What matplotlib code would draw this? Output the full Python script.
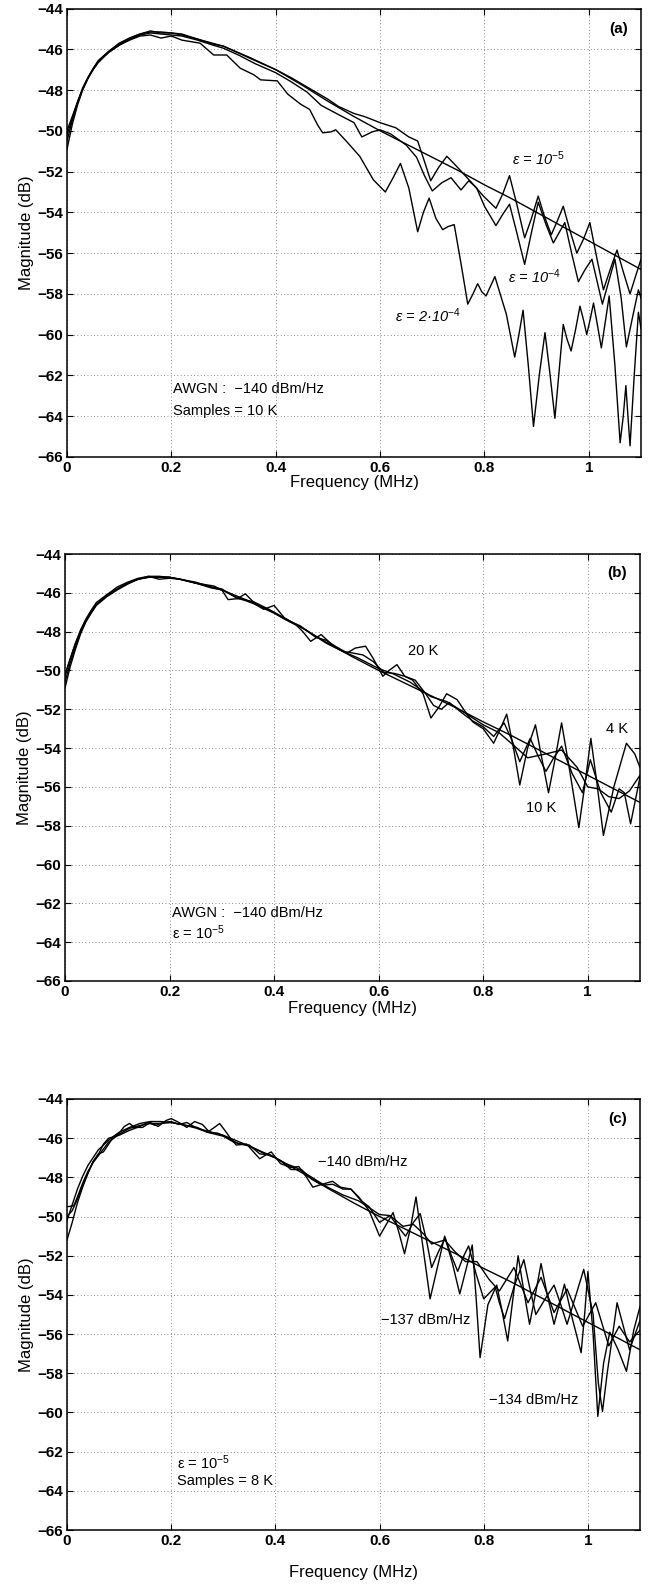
import matplotlib
matplotlib.use("Agg")
import matplotlib.pyplot as plt

plt.rcParams['font.family'] = ['Liberation Sans', 'DejaVu Sans']
plt.rcParams['mathtext.fontset'] = 'custom'
plt.rcParams['mathtext.rm'] = 'Liberation Sans'
plt.rcParams['mathtext.it'] = 'Liberation Sans:italic'
plt.rcParams['mathtext.bf'] = 'Liberation Sans:bold'

# ---------------- data ----------------
X_TICKS = [0, 0.2, 0.4, 0.6, 0.8, 1.0]
X_TICK_LABELS = ['0', '0.2', '0.4', '0.6', '0.8', '1']
Y_TICKS = [-44, -46, -48, -50, -52, -54, -56, -58, -60, -62, -64, -66]

THEORY_F = [0.00, 0.01, 0.02, 0.03, 0.04, 0.05, 0.06, 0.08, 0.10, 0.12, 0.14, 0.16, 0.18, 0.20, 0.22,
            0.25, 0.30, 0.35, 0.40, 0.45, 0.50, 0.55, 0.60, 0.65, 0.70, 0.75, 0.80, 0.85, 0.90, 0.95,
            1.00, 1.05, 1.10]
THEORY_DB = [-50.2, -49.4, -48.6, -47.95, -47.4, -47.0, -46.6, -46.1, -45.7, -45.45, -45.25, -45.15,
             -45.15, -45.2, -45.3, -45.5, -45.85, -46.4, -47.0, -47.75, -48.55, -49.3, -50.0, -50.65,
             -51.3, -51.95, -52.65, -53.3, -54.0, -54.7, -55.4, -56.1, -56.8]

# panel (a): AWGN -140 dBm/Hz, 10 K samples, different epsilon
A_EPS_1E5 = [(0.00, -50.0), (0.01, -49.3), (0.02, -48.6), (0.03, -47.9), (0.04, -47.4), (0.05, -46.95),
             (0.06, -46.55), (0.08, -46.1), (0.10, -45.75), (0.12, -45.45), (0.14, -45.25), (0.16, -45.1),
             (0.18, -45.2), (0.20, -45.2), (0.22, -45.25), (0.25, -45.5), (0.28, -45.75), (0.30, -45.85),
             (0.33, -46.2), (0.36, -46.55), (0.40, -47.0), (0.43, -47.4), (0.46, -47.85), (0.50, -48.45),
             (0.52, -48.8), (0.55, -49.15), (0.57, -49.3), (0.60, -49.6), (0.63, -49.85), (0.655, -50.3),
             (0.672, -50.5), (0.685, -51.5), (0.697, -52.45), (0.712, -51.8), (0.728, -51.25), (0.745, -51.7),
             (0.774, -52.5), (0.798, -53.2), (0.822, -53.8), (0.835, -53.1), (0.848, -52.2), (0.862, -53.6),
             (0.877, -55.25), (0.89, -54.3), (0.903, -53.2), (0.915, -54.2), (0.928, -55.1), (0.94, -54.4),
             (0.951, -53.7), (0.964, -54.9), (0.977, -56.0), (0.99, -55.3), (1.002, -54.5), (1.015, -56.2),
             (1.028, -57.8), (1.041, -56.8), (1.054, -55.85), (1.067, -57.0), (1.079, -58.0), (1.09, -57.1),
             (1.10, -56.3)]
A_EPS_1E4 = [(0.00, -50.5), (0.01, -49.5), (0.02, -48.65), (0.03, -47.95), (0.04, -47.4), (0.05, -46.95),
             (0.06, -46.6), (0.08, -46.15), (0.10, -45.8), (0.12, -45.5), (0.14, -45.3), (0.16, -45.2),
             (0.18, -45.25), (0.20, -45.3), (0.22, -45.35), (0.25, -45.55), (0.28, -45.8), (0.30, -45.95),
             (0.33, -46.3), (0.36, -46.7), (0.40, -47.15), (0.43, -47.6), (0.46, -48.1), (0.487, -48.75),
             (0.52, -49.2), (0.55, -49.6), (0.565, -50.3), (0.585, -50.05), (0.60, -49.95), (0.62, -50.15),
             (0.65, -50.7), (0.67, -51.3), (0.685, -52.2), (0.70, -52.95), (0.718, -52.55), (0.736, -52.3),
             (0.755, -52.9), (0.77, -52.45), (0.785, -52.8), (0.80, -53.7), (0.822, -54.65), (0.835, -54.1),
             (0.848, -53.6), (0.862, -55.0), (0.877, -56.55), (0.89, -55.0), (0.903, -53.5), (0.918, -54.6),
             (0.932, -55.5), (0.943, -55.0), (0.954, -54.5), (0.967, -56.0), (0.98, -57.4), (0.993, -56.8),
             (1.006, -56.3), (1.016, -57.4), (1.026, -58.5), (1.038, -57.4), (1.05, -56.3), (1.062, -58.2),
             (1.072, -60.6), (1.085, -59.0), (1.095, -57.8), (1.10, -58.2)]
A_EPS_2E4 = [(0.00, -50.9), (0.01, -49.7), (0.02, -48.75), (0.03, -48.0), (0.04, -47.45), (0.05, -47.0),
             (0.06, -46.65), (0.08, -46.15), (0.10, -45.8), (0.12, -45.55), (0.14, -45.35), (0.16, -45.3),
             (0.18, -45.45), (0.20, -45.35), (0.22, -45.55), (0.255, -45.7), (0.281, -46.28), (0.306, -46.28),
             (0.332, -46.93), (0.358, -47.25), (0.371, -47.5), (0.403, -47.55), (0.423, -48.2), (0.448, -48.7),
             (0.465, -48.95), (0.48, -49.7), (0.49, -50.1), (0.506, -50.05), (0.515, -49.95), (0.535, -50.5),
             (0.561, -51.25), (0.587, -52.4), (0.61, -53.0), (0.625, -52.3), (0.639, -51.6), (0.655, -52.8),
             (0.672, -54.95), (0.683, -54.0), (0.694, -53.3), (0.707, -54.3), (0.72, -54.85), (0.73, -54.7),
             (0.742, -54.6), (0.755, -56.5), (0.768, -58.5), (0.778, -58.0), (0.787, -57.5), (0.795, -57.9),
             (0.803, -58.1), (0.812, -57.6), (0.82, -57.15), (0.842, -59.0), (0.858, -61.1), (0.866, -60.0),
             (0.874, -58.8), (0.884, -61.5), (0.894, -64.5), (0.905, -62.0), (0.916, -59.9), (0.925, -61.8),
             (0.935, -64.1), (0.943, -61.8), (0.951, -59.5), (0.958, -60.2), (0.966, -60.8), (0.975, -59.7),
             (0.983, -58.6), (0.99, -59.3), (0.996, -60.0), (1.003, -59.2), (1.009, -58.45), (1.017, -59.6),
             (1.024, -60.65), (1.032, -59.3), (1.039, -58.1), (1.05, -61.5), (1.06, -65.3), (1.066, -64.0),
             (1.071, -62.5), (1.075, -64.0), (1.079, -65.45), (1.087, -62.0), (1.095, -58.9), (1.10, -59.7)]

# panel (b): AWGN -140 dBm/Hz, eps = 1e-5, different sample counts
B_20K = [(0.00, -50.6), (0.01, -49.6), (0.02, -48.8), (0.03, -48.0), (0.04, -47.45), (0.05, -47.0),
         (0.06, -46.6), (0.08, -46.15), (0.10, -45.8), (0.12, -45.5), (0.14, -45.3), (0.16, -45.2),
         (0.18, -45.2), (0.20, -45.2), (0.22, -45.3), (0.25, -45.5), (0.28, -45.75), (0.30, -45.85),
         (0.33, -46.25), (0.36, -46.55), (0.40, -47.05), (0.43, -47.5), (0.46, -47.9), (0.50, -48.6),
         (0.53, -49.0), (0.56, -49.35), (0.60, -49.9), (0.63, -50.2), (0.66, -50.6), (0.70, -51.35),
         (0.73, -51.6), (0.76, -52.1), (0.80, -52.8), (0.83, -53.2), (0.86, -53.9), (0.885, -54.5),
         (0.92, -54.3), (0.95, -54.1), (0.98, -55.0), (1.00, -56.0), (1.02, -56.1), (1.04, -56.5),
         (1.06, -56.6), (1.08, -56.2), (1.10, -55.4)]
B_10K = [(0.00, -50.3), (0.01, -49.4), (0.02, -48.6), (0.03, -47.9), (0.04, -47.35), (0.05, -46.9),
         (0.06, -46.5), (0.08, -46.1), (0.10, -45.8), (0.12, -45.5), (0.14, -45.3), (0.16, -45.2),
         (0.18, -45.2), (0.20, -45.2), (0.22, -45.3), (0.25, -45.45), (0.28, -45.7), (0.30, -45.8),
         (0.33, -46.3), (0.36, -46.45), (0.39, -46.85), (0.42, -47.35), (0.45, -47.7), (0.48, -48.3),
         (0.50, -48.45), (0.53, -49.0), (0.55, -49.1), (0.57, -49.2), (0.59, -49.55), (0.61, -50.1),
         (0.63, -50.15), (0.65, -50.3), (0.67, -50.5), (0.69, -51.2), (0.705, -51.8), (0.72, -52.0),
         (0.735, -51.65), (0.76, -52.2), (0.78, -52.6), (0.80, -52.9), (0.82, -53.4), (0.84, -52.7),
         (0.855, -53.6), (0.87, -54.7), (0.89, -53.5), (0.905, -54.4), (0.92, -55.2), (0.935, -54.5),
         (0.95, -53.9), (0.97, -55.3), (0.99, -56.3), (1.005, -54.6), (1.025, -56.3), (1.045, -57.3),
         (1.06, -56.1), (1.07, -56.3), (1.082, -57.9), (1.10, -55.5)]
B_4K = [(0.00, -50.9), (0.01, -49.8), (0.02, -48.9), (0.03, -48.1), (0.04, -47.5), (0.05, -47.05),
        (0.06, -46.65), (0.08, -46.2), (0.10, -45.85), (0.12, -45.55), (0.14, -45.3), (0.16, -45.15),
        (0.18, -45.3), (0.20, -45.25), (0.22, -45.3), (0.25, -45.5), (0.285, -45.65), (0.30, -45.85),
        (0.312, -46.35), (0.33, -46.3), (0.345, -46.05), (0.365, -46.6), (0.38, -46.85), (0.40, -46.65),
        (0.42, -47.3), (0.44, -47.6), (0.455, -48.0), (0.47, -48.5), (0.49, -48.15), (0.51, -48.65),
        (0.54, -49.1), (0.555, -48.85), (0.575, -48.75), (0.59, -49.4), (0.608, -50.3), (0.62, -50.0),
        (0.635, -49.7), (0.65, -50.3), (0.665, -50.5), (0.685, -51.2), (0.70, -52.45), (0.715, -51.9),
        (0.73, -51.2), (0.75, -51.5), (0.765, -52.1), (0.78, -52.65), (0.80, -53.0), (0.82, -53.75),
        (0.833, -53.0), (0.845, -52.25), (0.858, -54.0), (0.87, -55.9), (0.885, -54.0), (0.90, -52.8),
        (0.912, -54.5), (0.925, -56.3), (0.938, -54.5), (0.95, -52.7), (0.967, -55.4), (0.983, -58.1),
        (0.995, -55.8), (1.006, -53.5), (1.018, -55.9), (1.03, -58.5), (1.05, -56.0), (1.074, -53.75),
        (1.09, -54.3), (1.10, -55.0)]

# panel (c): eps = 1e-5, 8 K samples, different AWGN levels
C_140 = [(0.00, -49.5), (0.013, -49.45), (0.02, -49.0), (0.03, -48.3), (0.04, -47.7), (0.05, -47.25),
         (0.06, -46.9), (0.08, -46.2), (0.10, -45.8), (0.12, -45.5), (0.14, -45.35), (0.16, -45.25),
         (0.18, -45.25), (0.20, -45.2), (0.22, -45.3), (0.25, -45.45), (0.27, -45.7), (0.30, -45.9),
         (0.32, -46.2), (0.35, -46.4), (0.38, -46.8), (0.40, -47.0), (0.42, -47.3), (0.44, -47.5),
         (0.47, -48.0), (0.50, -48.5), (0.53, -48.9), (0.56, -49.2), (0.60, -49.9), (0.62, -49.95),
         (0.645, -50.5), (0.665, -50.4), (0.685, -50.9), (0.70, -51.4), (0.725, -51.2), (0.745, -51.8),
         (0.765, -52.3), (0.787, -52.3), (0.81, -53.2), (0.83, -53.8), (0.858, -52.6), (0.885, -54.4),
         (0.91, -53.1), (0.935, -54.9), (0.96, -53.7), (0.99, -55.6), (1.015, -54.4), (1.04, -56.6),
         (1.06, -55.6), (1.08, -56.4), (1.10, -55.8)]
C_137 = [(0.00, -50.0), (0.01, -49.7), (0.02, -49.1), (0.03, -48.4), (0.04, -47.8), (0.05, -47.2),
         (0.06, -46.85), (0.07, -46.3), (0.08, -46.0), (0.10, -45.85), (0.12, -45.6), (0.14, -45.4),
         (0.155, -45.2), (0.17, -45.35), (0.185, -45.2), (0.20, -45.15), (0.215, -45.3), (0.23, -45.2),
         (0.25, -45.5), (0.27, -45.7), (0.29, -45.75), (0.31, -46.0), (0.33, -46.3), (0.35, -46.35),
         (0.37, -46.8), (0.39, -46.85), (0.41, -47.15), (0.43, -47.6), (0.45, -47.6), (0.47, -48.1),
         (0.49, -48.4), (0.51, -48.35), (0.53, -48.6), (0.545, -48.6), (0.565, -49.2), (0.58, -49.5),
         (0.60, -50.3), (0.62, -49.95), (0.635, -50.5), (0.65, -51.0), (0.665, -50.3), (0.678, -49.85),
         (0.69, -51.2), (0.70, -52.6), (0.713, -51.8), (0.726, -51.1), (0.738, -52.0), (0.75, -52.8),
         (0.76, -52.1), (0.771, -51.5), (0.785, -52.9), (0.80, -54.2), (0.811, -53.9), (0.822, -53.6),
         (0.83, -54.4), (0.84, -55.2), (0.858, -53.6), (0.877, -52.2), (0.888, -53.6), (0.90, -55.0),
         (0.918, -54.2), (0.935, -53.5), (0.948, -54.5), (0.96, -55.5), (0.976, -54.1), (0.992, -52.7),
         (1.01, -55.0), (1.02, -58.5), (1.028, -59.95), (1.037, -58.0), (1.045, -56.5), (1.056, -54.4),
         (1.068, -55.6), (1.08, -56.8), (1.10, -55.3)]
C_134 = [(0.00, -51.2), (0.01, -50.3), (0.02, -49.3), (0.03, -48.5), (0.04, -47.8), (0.05, -47.2),
         (0.06, -46.8), (0.07, -46.7), (0.08, -46.3), (0.09, -45.9), (0.10, -45.75), (0.11, -45.4),
         (0.12, -45.25), (0.13, -45.45), (0.145, -45.45), (0.16, -45.2), (0.175, -45.4), (0.19, -45.1),
         (0.20, -45.0), (0.215, -45.2), (0.23, -45.45), (0.245, -45.15), (0.26, -45.3), (0.272, -45.65),
         (0.283, -45.45), (0.293, -45.25), (0.303, -45.6), (0.315, -46.05), (0.325, -46.35), (0.345, -46.3),
         (0.358, -46.7), (0.37, -47.05), (0.382, -46.85), (0.392, -46.7), (0.41, -47.3), (0.43, -47.5),
         (0.445, -47.45), (0.46, -48.0), (0.472, -48.5), (0.49, -48.35), (0.51, -48.2), (0.525, -48.5),
         (0.545, -48.6), (0.56, -49.0), (0.58, -49.7), (0.60, -51.0), (0.613, -50.4), (0.626, -49.8),
         (0.637, -50.8), (0.648, -51.9), (0.66, -50.5), (0.67, -49.0), (0.683, -51.5), (0.697, -54.2),
         (0.711, -52.6), (0.725, -51.0), (0.74, -52.4), (0.754, -53.95), (0.766, -52.7), (0.778, -51.45),
         (0.785, -54.0), (0.793, -57.2), (0.808, -54.5), (0.825, -53.5), (0.835, -54.8), (0.846, -56.35),
         (0.856, -54.2), (0.866, -52.0), (0.877, -53.8), (0.888, -55.5), (0.899, -54.0), (0.91, -52.4),
         (0.922, -54.0), (0.935, -55.5), (0.945, -54.5), (0.955, -53.45), (0.97, -55.2), (0.987, -56.95),
         (0.994, -54.9), (1.00, -52.8), (1.01, -56.0), (1.019, -60.2), (1.03, -57.5), (1.042, -55.9),
         (1.058, -56.8), (1.074, -57.9), (1.088, -55.8), (1.10, -54.6)]

PANEL_A_CURVES = [A_EPS_1E5, A_EPS_1E4, A_EPS_2E4]
PANEL_B_CURVES = [B_20K, B_10K, B_4K]
PANEL_C_CURVES = [C_140, C_137, C_134]

# annotations: (text, freq, dB, italic)
PANEL_A_TEXT = [(r'ε = 10$^{\mathit{-5}}$', 0.852, -51.35, True),
                (r'ε = 10$^{\mathit{-4}}$', 0.846, -57.15, True),
                (r'ε = 2·10$^{\mathit{-4}}$', 0.628, -59.05, True),
                ('AWGN :  \u2212140 dBm/Hz', 0.203, -62.65, False),
                ('Samples = 10 K', 0.203, -63.75, False)]
PANEL_B_TEXT = [('20 K', 0.657, -49.0, False),
                ('4 K', 1.034, -53.0, False),
                ('10 K', 0.881, -57.1, False),
                ('AWGN :  \u2212140 dBm/Hz', 0.204, -62.5, False),
                (r'ε = 10$^{-5}$', 0.204, -63.5, False)]
PANEL_C_TEXT = [('\u2212140 dBm/Hz', 0.481, -47.2, False),
                ('\u2212137 dBm/Hz', 0.603, -55.3, False),
                ('\u2212134 dBm/Hz', 0.811, -59.35, False),
                (r'ε = 10$^{-5}$', 0.211, -62.55, False),
                ('Samples = 8 K', 0.211, -63.5, False)]
PANEL_TAGS = ['(a)', '(b)', '(c)']

# ---------------- layout (pixel boxes: left, top, right, bottom) ----------------
FIG_W, FIG_H = 656, 1593
BOXES = [(67, 8.5, 641, 457), (65, 554, 640, 981), (67, 1099, 640, 1530)]

fig = plt.figure(figsize=(FIG_W / 100, FIG_H / 100), dpi=100)
fig.patch.set_facecolor('white')


def draw_panel(box, curves, texts, tag, xlabelpad):
    l, t, r, b = box
    ax = fig.add_axes([l / FIG_W, 1 - b / FIG_H, (r - l) / FIG_W, (b - t) / FIG_H])
    ax.plot(THEORY_F, THEORY_DB, color='black', lw=1.0, solid_joinstyle='round')
    for c in curves:
        f, db = zip(*c)
        ax.plot(f, db, color='black', lw=1.0, solid_joinstyle='round')
    ax.set_xlim(0, 1.1)
    ax.set_ylim(-66, -44)
    ax.set_xticks(X_TICKS)
    ax.set_xticklabels(X_TICK_LABELS)
    ax.set_yticks(Y_TICKS)
    ax.set_yticklabels(['\u2212%d' % abs(v) for v in Y_TICKS])
    ax.tick_params(direction='in', length=4.5, width=0.8, top=True, right=True,
                   labelsize=11, pad=3)
    for lab in ax.get_xticklabels() + ax.get_yticklabels():
        lab.set_fontweight('bold')
    ax.grid(True, linestyle=(0, (1, 3)), color='#666666', lw=0.6)
    for s in ax.spines.values():
        s.set_linewidth(1.1)
    ax.set_xlabel('Frequency (MHz)', fontsize=12, labelpad=xlabelpad)
    ax.set_ylabel('Magnitude (dB)', fontsize=12, labelpad=2)
    for s, x, y, it in texts:
        ax.text(x, y, s, fontsize=10.5, ha='left', va='center',
                fontstyle='italic' if it else 'normal')
    ax.text(1.075, -45.0, tag, fontsize=11, fontweight='bold', ha='right', va='center')
    return ax


draw_panel(BOXES[0], PANEL_A_CURVES, PANEL_A_TEXT, PANEL_TAGS[0], 0)
draw_panel(BOXES[1], PANEL_B_CURVES, PANEL_B_TEXT, PANEL_TAGS[1], 1)
draw_panel(BOXES[2], PANEL_C_CURVES, PANEL_C_TEXT, PANEL_TAGS[2], 12)

fig.savefig('out.png', dpi=100, facecolor='white')
